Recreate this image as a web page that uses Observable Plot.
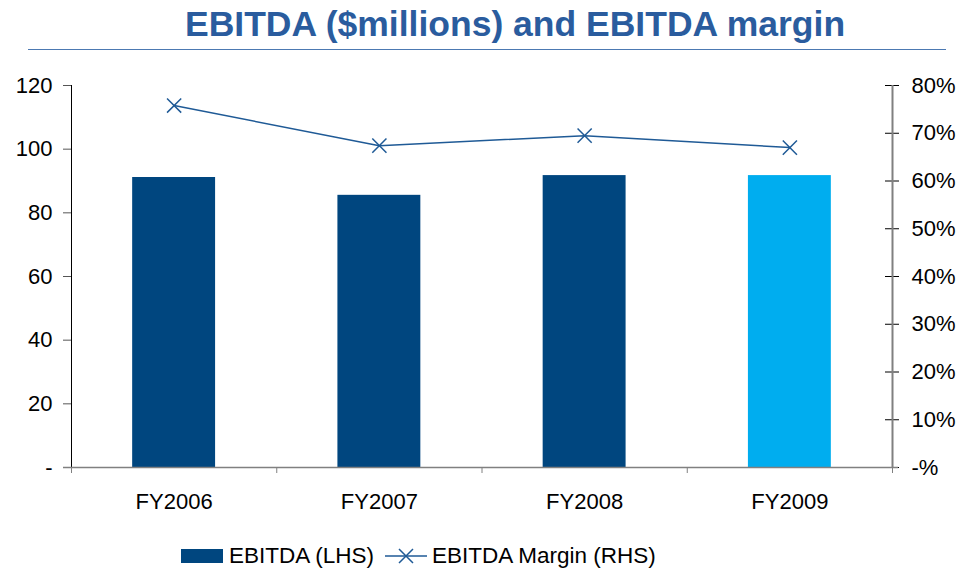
<!DOCTYPE html>
<html>
<head>
<meta charset="utf-8">
<script src="https://cdn.jsdelivr.net/npm/d3@7"></script>
<script src="https://cdn.jsdelivr.net/npm/@observablehq/plot@0.6"></script>
<style>
  html, body { margin: 0; padding: 0; background: #fff; }
  #wrap { position: relative; width: 965px; height: 569px; font-family: "Liberation Sans", Arial, sans-serif; overflow: hidden; }
  #title { position: absolute; left: 185px; top: 6px; font-size: 35.5px; font-weight: bold; color: #2A5C9E; line-height: 36px; white-space: nowrap; }
  #rule { position: absolute; left: 28px; width: 918px; top: 49px; height: 0; border-top: 1.5px solid #4C79B2; }
  #chart { position: absolute; left: 0; top: 52px; }
  #legend { position: absolute; left: 181px; top: 544px; height: 24px; display: flex; align-items: center; font-size: 22.5px; color: #000; }
  .sw { width: 42px; height: 14px; background: #00467F; margin-right: 6px; }
  .ln { margin-left: 11px; margin-right: 5px; }
</style>
</head>
<body>
<div id="wrap">
  <div id="title">EBITDA ($millions) and EBITDA margin</div>
  <div id="rule"></div>
  <div id="chart"></div>
  <div id="legend"></div>
</div>
<script>
const categories = ["FY2006", "FY2007", "FY2008", "FY2009"];
const ebitda = [91.1, 85.5, 91.7, 91.7];
const margin = [75.8, 67.4, 69.5, 67.0];
const barColors = ["#00467F", "#00467F", "#00467F", "#00ADEF"];
const leftTicks = [0, 20, 40, 60, 80, 100, 120];
const leftTickLabels = ["-", "20", "40", "60", "80", "100", "120"];
const rightTicks = [0, 10, 20, 30, 40, 50, 60, 70, 80];
const rightTickLabels = ["-%", "10%", "20%", "30%", "40%", "50%", "60%", "70%", "80%"];
const seriesNames = ["EBITDA (LHS)", "EBITDA Margin (RHS)"];

const lineColor = "#1F5A96";
const rightMax = 80, leftMax = 120;
const k = leftMax / rightMax; // maps right-axis % onto the left scale

const data = categories.map((c, i) => ({i, c, ebitda: ebitda[i], margin: margin[i], color: barColors[i]}));

const chart = Plot.plot({
  width: 965,
  height: 480,
  marginLeft: 71,
  marginRight: 73,
  marginTop: 33,
  marginBottom: 65,
  x: {domain: [0, categories.length], axis: null},
  y: {domain: [0, leftMax], axis: null},
  color: {type: "identity"},
  style: {fontFamily: "'Liberation Sans', Arial, sans-serif", fontSize: "22px", color: "#000", background: "transparent", overflow: "visible"},
  marks: [
    Plot.rectY(data, {x1: d => d.i + 0.298, x2: d => d.i + 0.702, y1: 0, y2: "ebitda", fill: "color"}),
    // left axis
    Plot.axisY({anchor: "left", label: null, ticks: leftTicks, tickSize: 8, tickPadding: 11, stroke: "#555",
      tickFormat: d => leftTickLabels[leftTicks.indexOf(d)], fontSize: 22, fill: "#000"}),
    Plot.ruleX([0], {y1: 0, y2: leftMax, stroke: "#000", strokeWidth: 1}),
    // right axis
    Plot.axisY({anchor: "right", label: null, ticks: rightTicks.map(v => v * k), tickSize: 6, tickPadding: 13, stroke: "#000",
      tickFormat: d => rightTickLabels[rightTicks.indexOf(Math.round(d / k))], fontSize: 22, fill: "#000"}),
    Plot.ruleY(rightTicks.map(v => v * k), {x1: categories.length, x2: categories.length, insetLeft: -7, stroke: "#000"}),
    Plot.ruleX([categories.length], {y1: 0, y2: leftMax, stroke: "#808080", strokeWidth: 2}),
    // x axis
    Plot.ruleY([0], {stroke: "#808080", strokeWidth: 1.5, insetLeft: -8, insetRight: -6}),
    Plot.axisX({label: null, ticks: d3.range(0, categories.length + 1), tickSize: 6, stroke: "#808080", tickFormat: () => ""}),
    Plot.axisX({label: null, ticks: categories.map((c, i) => i + 0.5), tickSize: 0, tickPadding: 26,
      tickFormat: d => categories[Math.floor(d)], fontSize: 22, fill: "#000"}),
    // margin line
    Plot.line(data, {x: d => d.i + 0.5, y: d => d.margin * k, stroke: lineColor, strokeWidth: 1.5}),
    Plot.dot(data, {x: d => d.i + 0.5, y: d => d.margin * k, symbol: "times", r: 6.5, stroke: lineColor, strokeWidth: 1.5})
  ]
});
document.getElementById("chart").appendChild(chart);

const legend = document.getElementById("legend");
legend.innerHTML =
  `<div class="sw"></div><span>${seriesNames[0]}</span>` +
  `<svg class="ln" width="42" height="20" viewBox="0 0 42 20"><line x1="0" y1="10" x2="42" y2="10" stroke="${lineColor}" stroke-width="1.5"/>` +
  `<path d="M14,3L28,17M28,3L14,17" stroke="${lineColor}" stroke-width="1.5"/></svg>` +
  `<span>${seriesNames[1]}</span>`;
</script>
</body>
</html>
